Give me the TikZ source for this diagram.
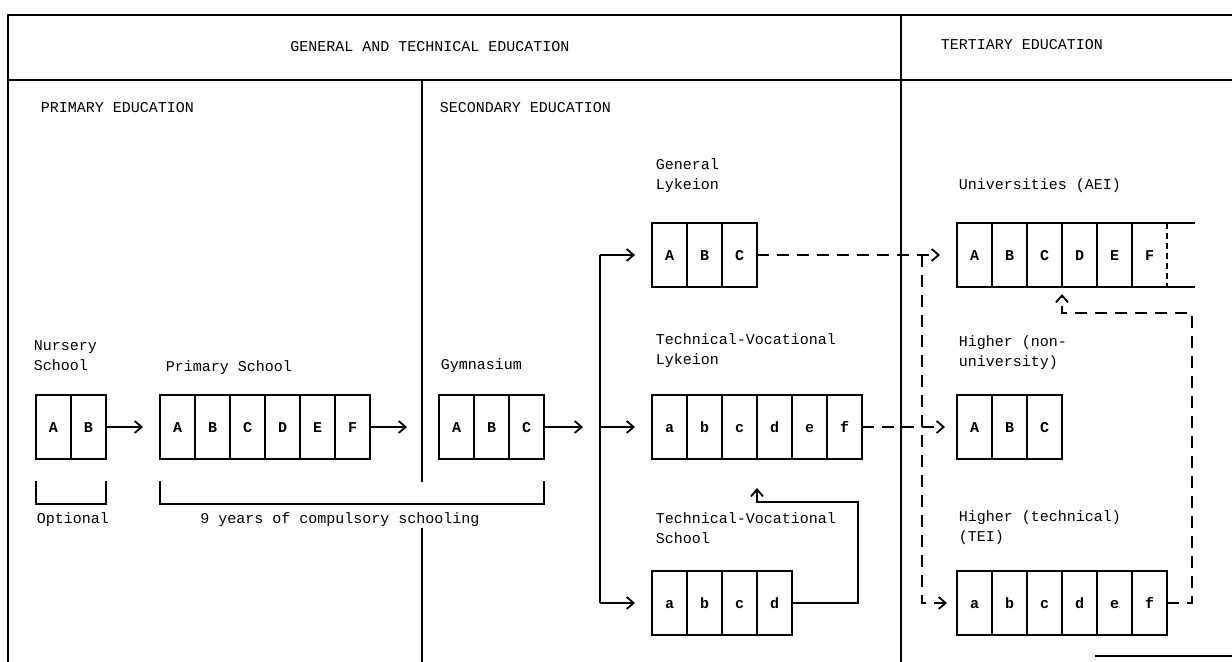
\documentclass[tikz,border=0pt]{standalone}
\usepackage{fontspec}
\setmonofont{Liberation Mono}
\usetikzlibrary{arrows.meta}

\begin{document}
\begin{tikzpicture}[x=0.5pt, y=-0.5pt, line width=0.9pt,
    >={Straight Barb[length=3.5pt,width=6pt]},
    txt/.style={font=\ttfamily\fontsize{7.5}{10}\selectfont, inner sep=0pt},
    lbl/.style={txt, align=left, anchor=north west},
    cell/.style={draw, inner sep=0pt, outer sep=0pt,
        font=\ttfamily\bfseries\fontsize{7.5}{10}\selectfont,
        text height=5.5pt, text depth=0pt,
        minimum width=17.5pt, minimum height=32pt},
    link/.style={->, shorten >=8.5pt},
    dlink/.style={link, dash pattern=on 6pt off 4pt}]
    \useasboundingbox (0,0) rectangle (1232,662);
    % Frame and dividers
    \draw (8,662) -- (8,15) -- (1232,15);
    \draw (8,80) -- (1232,80);
    \draw (901,15) -- (901,662);
    \draw (422,80) -- (422,482);
    \draw (422,528) -- (422,662);
    \draw (1095,656) -- (1232,656);
    % Headings
    \node[txt] (gte) at (430,47) {GENERAL AND TECHNICAL EDUCATION};
    \node[txt] (ter) at (1022,45) {TERTIARY EDUCATION};
    \node[txt, anchor=west] (pri) at (40,108) {PRIMARY EDUCATION};
    \node[txt, anchor=west] (sec) at (439,108) {SECONDARY EDUCATION};
    % School names
    \node[lbl] (nsl) at (33,340) {Nursery\\School};
    \node[lbl] (psl) at (165,360) {Primary School};
    \node[lbl] (gyl) at (440,358) {Gymnasium};
    \node[lbl] (gll) at (655,158) {General\\Lykeion};
    \node[lbl] (unl) at (958,178) {Universities (AEI)};
    \node[lbl] (tll) at (655,333) {Technical-Vocational\\Lykeion};
    \node[lbl] (hnl) at (958,335) {Higher (non-\\university)};
    \node[lbl] (tsl) at (655,512) {Technical-Vocational\\School};
    \node[lbl] (tel) at (958,510) {Higher (technical)\\(TEI)};
    % Year boxes
    \foreach \l [count=\i] in {A,B}
        \node[cell] (ns\i) at ({53.5+35*(\i-1)},427) {\l};
    \foreach \l [count=\i] in {A,B,C,D,E,F}
        \node[cell] (ps\i) at ({177.5+35*(\i-1)},427) {\l};
    \foreach \l [count=\i] in {A,B,C}
        \node[cell] (gy\i) at ({456.5+35*(\i-1)},427) {\l};
    \foreach \l [count=\i] in {A,B,C}
        \node[cell] (gl\i) at ({669.5+35*(\i-1)},255) {\l};
    \foreach \l [count=\i] in {a,b,c,d,e,f}
        \node[cell] (tl\i) at ({669.5+35*(\i-1)},427) {\l};
    \foreach \l [count=\i] in {a,b,c,d}
        \node[cell] (ts\i) at ({669.5+35*(\i-1)},603) {\l};
    \foreach \l [count=\i] in {A,B,C,D,E}
        \node[cell] (un\i) at ({974.5+35*(\i-1)},255) {\l};
    \node[cell, draw=none] (un6) at (1149.5,255) {F};
    \draw (un6.north west) -- ++(63,0);
    \draw (un6.south west) -- ++(63,0);
    \draw[dash pattern=on 3pt off 2pt] (un6.north east) -- (un6.south east);
    \foreach \l [count=\i] in {A,B,C}
        \node[cell] (hn\i) at ({974.5+35*(\i-1)},427) {\l};
    \foreach \l [count=\i] in {a,b,c,d,e,f}
        \node[cell] (te\i) at ({974.5+35*(\i-1)},603) {\l};
    % Brackets
    \draw ([yshift=-11pt]ns1.south west) -- ++(0,23) -| ([yshift=-11pt]ns2.south east);
    \draw ([yshift=-11pt]ps1.south west) -- ++(0,23) -| ([yshift=-11pt]gy3.south east);
    \node[txt] (opt) at (73,520) {Optional};
    \node[txt] (cmp) at (340,520) {9 years of compulsory schooling};
    % Solid arrows
    \coordinate (forkN) at (600,255);
    \coordinate (forkM) at (600,427);
    \coordinate (forkS) at (600,603);
    \draw[link] (ns2) -- (ps1);
    \draw[link, shorten >=16pt] (ps6) -- (gy1);
    \draw[link] (gy3) -- (forkM);
    \draw (forkN) -- (forkS);
    \draw[link] (forkN) -- (gl1);
    \draw[link] (forkM) -- (tl1);
    \draw[link] (forkS) -- (ts1);
    \draw[->] (ts4.east) -| (858,502) -| ([yshift=-14.5pt]tl4.south west);
    % Dashed arrows
    \coordinate (drop) at (922,255);
    \draw[dlink] (gl3) -- (un1);
    \draw[dlink, shorten >=5pt] (drop) |- (te1);
    \draw[dlink, shorten >=6pt] (tl6) -- (hn1);
    \draw[dlink, shorten >=0pt] (te6.east) -| (1192,313) -| ([yshift=-3.5pt]un4.south west);
\end{tikzpicture}
\end{document}
